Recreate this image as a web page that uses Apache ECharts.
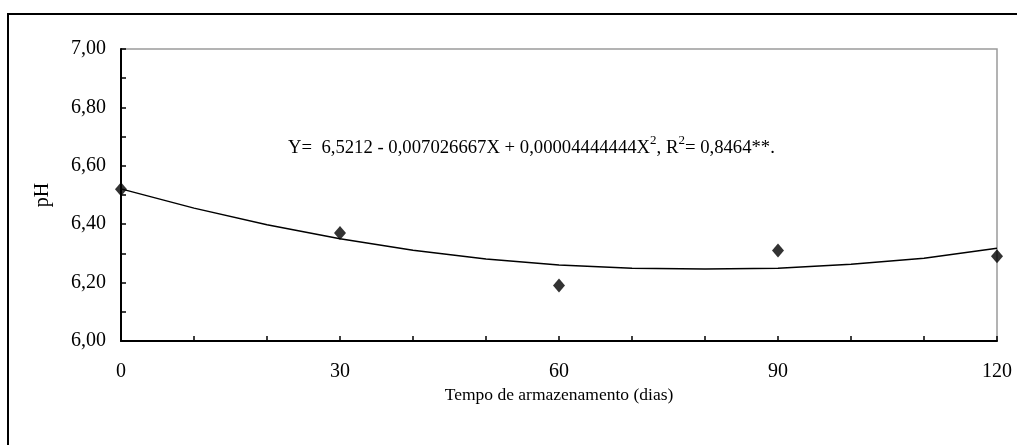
<!DOCTYPE html>
<html>
<head>
<meta charset="utf-8">
<script src="https://cdn.jsdelivr.net/npm/echarts@6/dist/echarts.min.js"></script>
<style>
  html, body { margin: 0; padding: 0; background: #fff; overflow: hidden; }
  #frame { position: absolute; left: 7px; top: 13px; width: 1200px; height: 600px; border: 2px solid #000; }
  #main { position: absolute; left: 0; top: 0; width: 1017px; height: 445px; }
</style>
</head>
<body>
<div id="frame"></div>
<div id="main"></div>
<script>
// observed points (dias, pH)
const dias = [0, 30, 60, 90, 120]
const ph = [6.52, 6.37, 6.19, 6.31, 6.29]

// fitted curve every 10 days
const curveDias = [0, 10, 20, 30, 40, 50, 60, 70, 80, 90, 100, 110, 120]
const curvePh = [6.521, 6.455, 6.398, 6.350, 6.311, 6.281, 6.260, 6.249, 6.247, 6.249, 6.263, 6.283, 6.318]

const xTicks = [0, 30, 60, 90, 120]
const yTicks = [6.0, 6.2, 6.4, 6.6, 6.8, 7.0]

const serif = '"Liberation Serif", "Times New Roman", serif'

const chart = echarts.init(document.getElementById('main'))

const option = {
  animation: false,
  backgroundColor: 'transparent',
  grid: {
    left: 121, right: 20, top: 49, bottom: 104,
    show: true, borderColor: '#9a9a9a', borderWidth: 1.5,
    containLabel: false
  },
  xAxis: {
    type: 'value', min: 0, max: 120, interval: 10,
    name: 'Tempo de armazenamento (dias)',
    nameLocation: 'middle', nameGap: 44,
    nameTextStyle: { fontFamily: serif, fontSize: 17.5, color: '#000' },
    axisLine: { show: true, lineStyle: { color: '#000', width: 2 } },
    axisTick: { show: true, inside: true, length: 5, lineStyle: { color: '#000', width: 1.5 } },
    axisLabel: {
      margin: 21, fontFamily: serif, fontSize: 20, color: '#000',
      formatter: v => xTicks.includes(v) ? String(v) : ''
    },
    splitLine: { show: false }
  },
  yAxis: {
    type: 'value', min: 6, max: 7, interval: 0.1,
    name: 'pH', nameLocation: 'middle', nameGap: 68,
    nameTextStyle: { fontFamily: serif, fontSize: 20, color: '#000' },
    axisLine: { show: true, lineStyle: { color: '#000', width: 2 } },
    axisTick: { show: true, inside: true, length: 5, lineStyle: { color: '#000', width: 1.5 } },
    axisLabel: {
      margin: 15, fontFamily: serif, fontSize: 20, color: '#000',
      formatter: v => {
        const hit = yTicks.some(t => Math.abs(t - v) < 1e-6)
        return hit ? v.toFixed(2).replace('.', ',') : ''
      }
    },
    splitLine: { show: false }
  },
  graphic: [{
    type: 'text', left: 288, top: 134, z: 10,
    style: {
      text: 'Y=  6,5212 - 0,007026667X + 0,00004444444X{s|2}, R{s|2}= 0,8464**.',
      fontFamily: serif, fontSize: 18.7, fill: '#000', lineHeight: 28,
      verticalAlign: 'bottom',
      rich: {
        s: { fontFamily: serif, fontSize: 13, lineHeight: 28, verticalAlign: 'top', padding: [0, 0, 14, 0] }
      }
    }
  }],
  series: [
    {
      name: 'ajuste', type: 'line',
      data: curveDias.map((d, i) => [d, curvePh[i]]),
      showSymbol: false, smooth: false,
      lineStyle: { color: '#000', width: 1.5 },
      z: 2
    },
    {
      name: 'pH', type: 'scatter',
      data: dias.map((d, i) => [d, ph[i]]),
      symbol: 'diamond', symbolSize: [12, 14],
      itemStyle: { color: '#000' },
      z: 3
    }
  ]
}

chart.setOption(option)
</script>
</body>
</html>
